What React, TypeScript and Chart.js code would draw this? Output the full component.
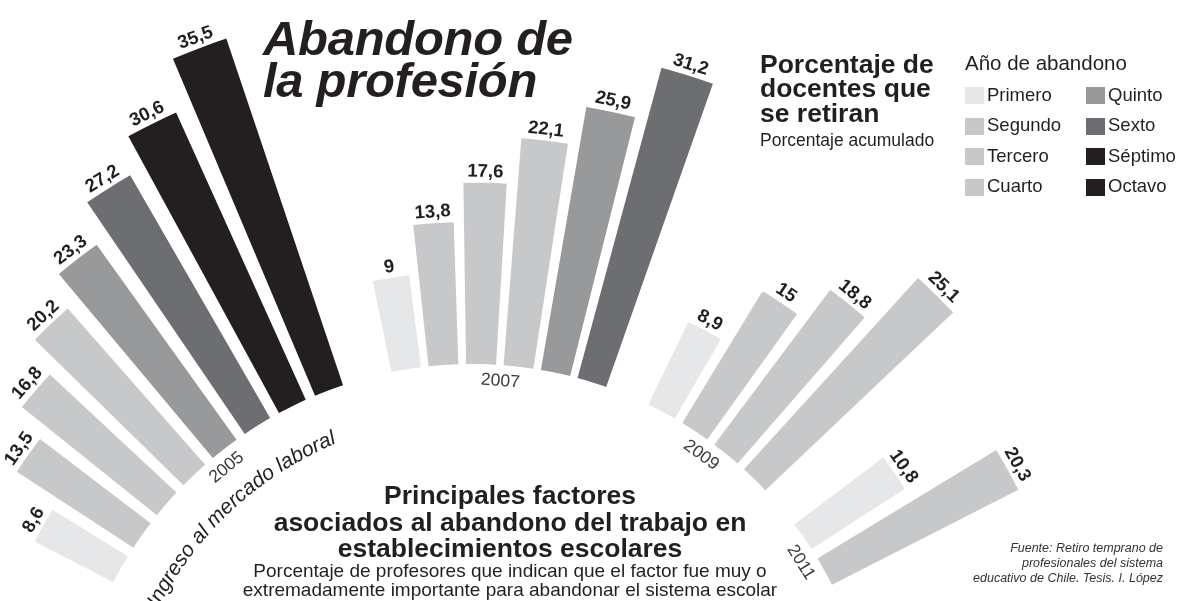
import React, { useEffect, useRef } from 'react';
import { Chart, registerables } from 'chart.js';

Chart.register(...registerables);

// ---------------- data ----------------
const YEARS = ['2005', '2007', '2009', '2011'];
const LEVELS = ['Primero', 'Segundo', 'Tercero', 'Cuarto', 'Quinto', 'Sexto', 'Séptimo', 'Octavo'];
const LEVEL_COLORS = ['#e6e7e8', '#c7c8ca', '#c7c8ca', '#c7c8ca', '#98999b', '#6d6e71', '#231f20', '#231f20'];
const VALUES_2005 = [8.6, 13.5, 16.8, 20.2, 23.3, 27.2, 30.6, 35.5];
const VALUES_2007 = [9, 13.8, 17.6, 22.1, 25.9, 31.2];
const VALUES_2009 = [8.9, 15, 18.8, 25.1];
const VALUES_2011 = [10.8, 20.3];
const SERIES = [VALUES_2005, VALUES_2007, VALUES_2009, VALUES_2011];
const AXIS_LABEL = 'Ingreso al mercado laboral';

// ---------------- layout ----------------
const W = 1177;
const H = 601;
const CX = 472; // fan centre on the page
const CY = 768;
const SIDE = 2 * CY; // square canvas so the radial scale centres on the fan centre
const R0 = 404; // radius where value 0 sits
const PX_PER_UNIT = 10.3;
const BAR_DEG = 4.25;
const INNER_GAP_DEG = [1.43, 1.08, 1.23, 1.58];
const GROUP_GAP_DEG = [0, 7.11, 6.48, 6.37];
const YEAR_SHIFT_DEG = [1.4, 0.25, 0, 0];
const FIRST_CENTER_DEG = -60.5;
const FONT = '"Liberation Sans", Arial, Helvetica, sans-serif';
const INK = '#231f20';
const DEG = Math.PI / 180;

type Slot = { kind: 'bar' | 'gap'; value: number; level: number; group: number; angle: number };

const slots: Slot[] = [];
SERIES.forEach((vals, g) => {
  if (g > 0) slots.push({ kind: 'gap', value: 0, level: -1, group: g, angle: GROUP_GAP_DEG[g] });
  vals.forEach((v, i) => {
    if (i > 0) slots.push({ kind: 'gap', value: 0, level: -1, group: g, angle: INNER_GAP_DEG[g] });
    slots.push({ kind: 'bar', value: v, level: i, group: g, angle: BAR_DEG });
  });
});

const fmt = (v: number) => String(v).replace('.', ',');

const fanPlugin = {
  id: 'fanPlugin',
  afterDatasetUpdate(chart: any, args: any) {
    const inner = chart.scales.r.getDistanceFromCenterForValue(0);
    args.meta.data.forEach((el: any) => {
      el.innerRadius = inner;
    });
  },
  afterDatasetsDraw(chart: any) {
    const ctx = chart.ctx;
    const meta = chart.getDatasetMeta(0);
    const inner = chart.scales.r.getDistanceFromCenterForValue(0);
    const els = meta.data;
    if (!els.length) return;
    const cx = els[0].x;
    const cy = els[0].y;

    // value labels
    els.forEach((el: any, i: number) => {
      const s = slots[i];
      if (s.kind !== 'bar') return;
      const mid = (el.startAngle + el.endAngle) / 2;
      const rad = el.outerRadius + 11;
      ctx.save();
      ctx.translate(cx + Math.cos(mid) * rad, cy + Math.sin(mid) * rad);
      ctx.rotate(mid + Math.PI / 2);
      ctx.font = `bold 18.5px ${FONT}`;
      ctx.fillStyle = INK;
      ctx.textAlign = 'center';
      ctx.textBaseline = 'middle';
      ctx.fillText(fmt(s.value), 0, 0);
      ctx.restore();
    });

    // year labels along the inner arc
    const groupMid: number[] = [];
    YEARS.forEach((y, g) => {
      const idx = slots.map((s, i) => (s.kind === 'bar' && s.group === g ? i : -1)).filter((i) => i >= 0);
      const first = els[idx[0]];
      const last = els[idx[idx.length - 1]];
      const gm = (first.startAngle + last.endAngle) / 2;
      groupMid.push(gm);
      const mid = gm + YEAR_SHIFT_DEG[g] * DEG;
      const rad = inner - 21;
      ctx.save();
      ctx.translate(cx + Math.cos(mid) * rad, cy + Math.sin(mid) * rad);
      ctx.rotate(mid + Math.PI / 2);
      ctx.font = `17.5px ${FONT}`;
      ctx.fillStyle = '#3a3a3c';
      ctx.textAlign = 'center';
      ctx.textBaseline = 'alphabetic';
      ctx.fillText(y, 0, 0);
      ctx.restore();
    });

    // curved axis label
    ctx.save();
    ctx.font = `italic 21px ${FONT}`;
    ctx.fillStyle = INK;
    ctx.textAlign = 'center';
    ctx.textBaseline = 'alphabetic';
    const rad = inner - 52;
    const total = ctx.measureText(AXIS_LABEL).width;
    const center = groupMid[0] - 2.2 * DEG;
    let acc = 0;
    const start = center - total / rad / 2;
    for (const ch of AXIS_LABEL) {
      const w = ctx.measureText(ch).width;
      const a = start + (acc + w / 2) / rad;
      ctx.save();
      ctx.translate(cx + Math.cos(a) * rad, cy + Math.sin(a) * rad);
      ctx.rotate(a + Math.PI / 2);
      ctx.fillText(ch, 0, 0);
      ctx.restore();
      acc += w;
    }
    ctx.restore();
  },
};

type TProps = {
  x: number;
  y: number;
  size: number;
  weight?: string;
  italic?: boolean;
  align?: 'left' | 'center' | 'right';
  color?: string;
  ls?: number;
  children: React.ReactNode;
};

function T({ x, y, size, weight = 'normal', italic = false, align = 'left', color = INK, ls = 0, children }: TProps) {
  const top = y - 0.8465 * size;
  const style: React.CSSProperties = {
    position: 'absolute',
    top,
    fontFamily: FONT,
    fontSize: size,
    fontWeight: weight as any,
    fontStyle: italic ? 'italic' : 'normal',
    lineHeight: `${size}px`,
    color,
    whiteSpace: 'nowrap',
    letterSpacing: ls,
  };
  if (align === 'left') style.left = x;
  else if (align === 'right') style.right = W - x;
  else {
    style.left = x;
    style.transform = 'translateX(-50%)';
  }
  return <div style={style}>{children}</div>;
}

export default function App() {
  const ref = useRef<HTMLCanvasElement | null>(null);

  useEffect(() => {
    const canvas = ref.current;
    if (!canvas) return;
    const min = -R0 / PX_PER_UNIT;
    const max = (SIDE / 2 - R0) / PX_PER_UNIT;
    const chart = new Chart(canvas, {
      type: 'polarArea',
      data: {
        labels: slots.map((s) => (s.kind === 'bar' ? `${YEARS[s.group]} ${LEVELS[s.level]}` : '')),
        datasets: [
          {
            data: slots.map((s) => s.value),
            backgroundColor: slots.map((s) => (s.kind === 'bar' ? LEVEL_COLORS[s.level] : 'rgba(0,0,0,0)')),
            borderWidth: 0,
            angle: (c: any) => slots[c.dataIndex].angle,
          } as any,
        ],
      },
      options: {
        responsive: false,
        animation: false,
        events: [],
        layout: { padding: 0 },
        plugins: { legend: { display: false }, tooltip: { enabled: false } },
        scales: {
          r: {
            min,
            max,
            beginAtZero: false,
            startAngle: FIRST_CENTER_DEG - BAR_DEG / 2,
            grid: { display: false },
            angleLines: { display: false },
            ticks: { display: false },
            pointLabels: { display: false },
          } as any,
        },
      } as any,
      plugins: [fanPlugin as any],
    });
    return () => chart.destroy();
  }, []);

  const col1 = LEVELS.slice(0, 4);
  const col2 = LEVELS.slice(4);

  return (
    <div style={{ position: 'fixed', left: 0, top: 0, width: W, height: H, overflow: 'hidden', background: '#fff' }}>
      <canvas
        ref={ref}
        width={SIDE}
        height={SIDE}
        style={{ position: 'absolute', left: CX - SIDE / 2, top: CY - SIDE / 2, width: SIDE, height: SIDE }}
      />
      <T x={263} y={55} size={49} weight="bold" italic ls={-0.3}>Abandono de</T>
      <T x={263} y={97.5} size={49} weight="bold" italic ls={-0.3}>la profesión</T>

      <T x={760} y={73} size={26.5} weight="bold">Porcentaje de</T>
      <T x={760} y={97.5} size={26.5} weight="bold">docentes que</T>
      <T x={760} y={122} size={26.5} weight="bold">se retiran</T>
      <T x={760} y={147} size={17.5}>Porcentaje acumulado</T>

      <T x={965} y={70} size={20.5}>Año de abandono</T>
      {col1.map((l, i) => (
        <React.Fragment key={l}>
          <div style={{ position: 'absolute', left: 965, top: 87 + i * 30.5, width: 19, height: 17, background: LEVEL_COLORS[i] }} />
          <T x={987} y={101.5 + i * 30.5} size={18.5}>{l}</T>
        </React.Fragment>
      ))}
      {col2.map((l, i) => (
        <React.Fragment key={l}>
          <div style={{ position: 'absolute', left: 1086, top: 87 + i * 30.5, width: 19, height: 17, background: LEVEL_COLORS[i + 4] }} />
          <T x={1108} y={101.5 + i * 30.5} size={18.5}>{l}</T>
        </React.Fragment>
      ))}

      <T x={510} y={504} size={26.5} weight="bold" align="center">Principales factores</T>
      <T x={510} y={531} size={26.5} weight="bold" align="center">asociados al abandono del trabajo en</T>
      <T x={510} y={557} size={26.5} weight="bold" align="center">establecimientos escolares</T>
      <T x={510} y={577} size={19} align="center">Porcentaje de profesores que indican que el factor fue muy o</T>
      <T x={510} y={596} size={19} align="center">extremadamente importante para abandonar el sistema escolar</T>

      <T x={1163} y={553} size={12.5} italic align="right" color="#333">Fuente: Retiro temprano de</T>
      <T x={1163} y={568} size={12.5} italic align="right" color="#333">profesionales del sistema</T>
      <T x={1163} y={583} size={12.5} italic align="right" color="#333">educativo de Chile. Tesis. I. López</T>
    </div>
  );
}
